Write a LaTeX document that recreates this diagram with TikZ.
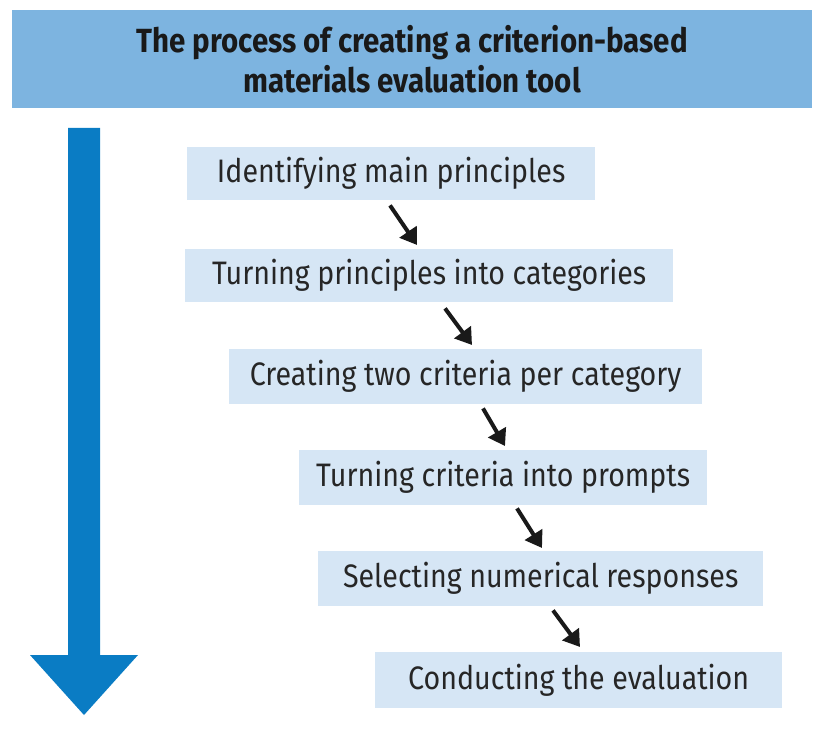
\documentclass[tikz,border=0pt]{standalone}
\usepackage{fontspec}
\setmainfont{Fira Sans}
\usetikzlibrary{calc,arrows.meta}
\definecolor{titlebg}{HTML}{7DB4E0}
\definecolor{boxbg}{HTML}{D6E6F5}
\definecolor{bigarrow}{HTML}{0A7CC4}
\tikzset{
  stepbox/.style={fill=boxbg, anchor=north west, inner sep=0pt, font=\fontsize{32.5}{36}\selectfont\addfontfeature{FakeStretch=0.88}, text=black!85},
  arr/.style={-{Triangle[length=16pt,width=20pt]}, line width=4pt, black!90}
}
\begin{document}
\begin{tikzpicture}[x=1pt,y=-1pt]
\useasboundingbox (0,0) rectangle (829,735);
\node[fill=titlebg, minimum width=800pt, minimum height=98pt, anchor=north west, inner sep=0pt, align=center, font=\bfseries\fontsize{33.5}{40}\selectfont\addfontfeature{FakeStretch=0.88}, text=black!90] (title) at (12,10) {The process of creating a criterion-based\\materials evaluation tool};
\fill[bigarrow] (68,128) -- (100,128) -- (100,655) -- (138,655) -- (84,715) -- (30,655) -- (68,655) -- cycle;
\node[stepbox, minimum width=408pt, minimum height=53pt] (s1) at (187,147) {Identifying main principles};
\node[stepbox, minimum width=488pt, minimum height=53pt] (s2) at (185,249) {Turning principles into categories};
\node[stepbox, minimum width=473pt, minimum height=55pt] (s3) at (229,349) {Creating two criteria per category};
\node[stepbox, minimum width=408pt, minimum height=55pt] (s4) at (299,450) {Turning criteria into prompts};
\node[stepbox, minimum width=445pt, minimum height=55pt] (s5) at (318,551) {Selecting numerical responses};
\node[stepbox, minimum width=407pt, minimum height=56pt] (s6) at (375,652) {Conducting the evaluation};
\draw[arr] ($(s1.south west)+(203,5)$) -- ($(s2.north west)+(232,-4)$);
\draw[arr] ($(s2.south west)+(260,6)$) -- ($(s3.north west)+(243,-4)$);
\draw[arr] ($(s3.south west)+(254,4)$) -- ($(s4.north west)+(206,-4)$);
\draw[arr] ($(s4.south west)+(218,3)$) -- ($(s5.north west)+(224,-3)$);
\draw[arr] ($(s5.south west)+(235,4)$) -- ($(s6.north west)+(205,-5)$);
\end{tikzpicture}
\end{document}
